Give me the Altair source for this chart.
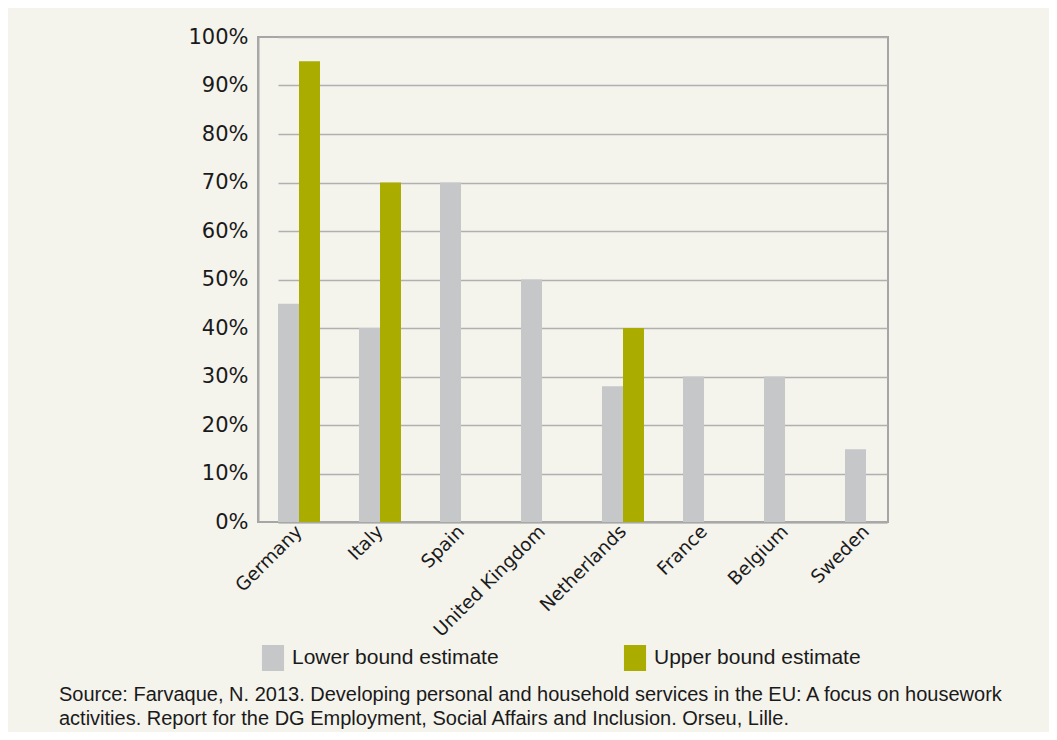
import altair as alt
import pandas as pd

countries = ["Germany", "Italy", "Spain", "United Kingdom", "Netherlands", "France", "Belgium", "Sweden"]
lower = [0.45, 0.40, 0.70, 0.50, 0.28, 0.30, 0.30, 0.15]
upper = [0.95, 0.70, None, None, 0.40, None, None, None]
series = ["Lower bound estimate", "Upper bound estimate"]
colors = ["#c6c7c9", "#abac00"]
y_ticks = [0, 0.1, 0.2, 0.3, 0.4, 0.5, 0.6, 0.7, 0.8, 0.9, 1.0]
source_lines = [
    "Source: Farvaque, N. 2013. Developing personal and household services in the EU: A focus on housework",
    "activities. Report for the DG Employment, Social Affairs and Inclusion. Orseu, Lille.",
]

rows = []
for c, lo, up in zip(countries, lower, upper):
    rows.append({"country": c, "series": series[0], "value": lo})
    if up is not None:
        rows.append({"country": c, "series": series[1], "value": up})
df = pd.DataFrame(rows)

BG = "#f4f3ec"

chart = (
    alt.Chart(df)
    .mark_bar()
    .encode(
        x=alt.X(
            "country:N",
            sort=countries,
            scale=alt.Scale(range=[20, 629], paddingInner=0.4815, paddingOuter=0),
            axis=alt.Axis(
                title=None,
                labelAngle=-45,
                labelAlign="right",
                labelBaseline="middle",
                labelFont="DejaVu Sans",
                labelFontSize=18.5,
                labelColor="#1a1a1a",
                labelPadding=6,
                ticks=False,
                domainColor="#a8a8a8",
                domainWidth=2,
                grid=False,
            ),
        ),
        xOffset=alt.XOffset("series:N", scale=alt.Scale(domain=series)),
        y=alt.Y(
            "value:Q",
            scale=alt.Scale(domain=[0, 1], nice=False),
            axis=alt.Axis(
                title=None,
                values=y_ticks,
                format=".0%",
                labelFont="DejaVu Sans",
                labelFontSize=21,
                labelColor="#1a1a1a",
                labelPadding=10,
                ticks=False,
                domainColor="#a8a8a8",
                domainWidth=2,
                gridColor="#b0b0b0",
                gridWidth=1.5,
                gridOpacity=1,
            ),
        ),
        color=alt.Color(
            "series:N",
            scale=alt.Scale(domain=series, range=colors),
            legend=alt.Legend(
                title=None,
                orient="none",
                legendX=2,
                legendY=608,
                direction="horizontal",
                columns=2,
                columnPadding=123,
                symbolType="M-0.85,-1L0.85,-1L0.85,1L-0.85,1Z",
                symbolSize=676,
                symbolStrokeWidth=0,
                symbolOpacity=1,
                labelFont="Liberation Sans",
                labelFontSize=21,
                labelColor="#1a1a1a",
                labelOffset=6,
                labelLimit=400,
            ),
        ),
    )
    .properties(
        width=630,
        height=485,
        background=BG,
        autosize=alt.AutoSizeParams(type="none"),
        padding={"left": 250, "top": 29, "right": 161, "bottom": 210},
        title=alt.TitleParams(
            text=source_lines,
            orient="bottom",
            anchor="start",
            frame="group",
            dx=-199,
            offset=14,
            font="Liberation Sans",
            fontSize=20,
            fontWeight="normal",
            color="#1a1a1a",
            lineHeight=24,
        ),
    )
    .configure_view(stroke="#a6a6a6", strokeWidth=2, fill=BG)
)

chart.save("out.html", embed_options={"renderer": "svg", "actions": False})
